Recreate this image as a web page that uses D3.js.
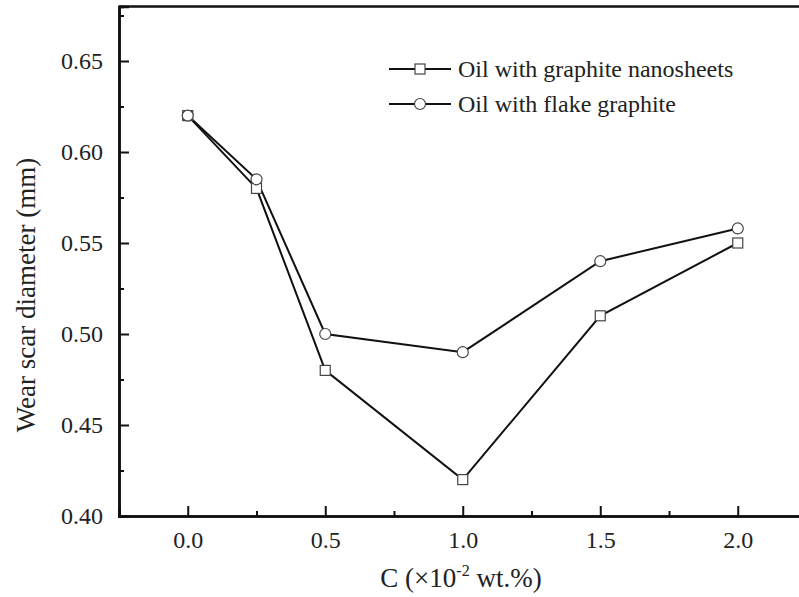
<!DOCTYPE html>
<html><head><meta charset="utf-8">
<script src="https://cdn.jsdelivr.net/npm/d3@7"></script>
<style>body{margin:0;background:#fff;} svg{display:block;}</style>
</head><body>
<svg id="chart" width="799" height="597"></svg>
<script>
const concentrations = [0, 0.25, 0.5, 1.0, 1.5, 2.0];
const nanosheets = [0.62, 0.58, 0.48, 0.42, 0.51, 0.55];
const flake = [0.62, 0.585, 0.50, 0.49, 0.54, 0.558];
const seriesNames = ["Oil with graphite nanosheets", "Oil with flake graphite"];
const xTicks = [0.0, 0.5, 1.0, 1.5, 2.0];
const xMinor = [0.25, 0.75, 1.25, 1.75];
const yTicks = [0.40, 0.45, 0.50, 0.55, 0.60, 0.65];
const yMinor = [0.425, 0.475, 0.525, 0.575, 0.625, 0.675];

const svg = d3.select("#chart");
const font = "'Liberation Serif', 'Times New Roman', serif";
const x = d3.scaleLinear().domain([-0.25, 2.25]).range([119, 806.5]);
const y = d3.scaleLinear().domain([0.40, 0.68]).range([516, 6.4]);

// axes
const gx = svg.append("g").attr("transform", "translate(0,516)")
  .call(d3.axisBottom(x).tickValues(xTicks).tickSize(-10).tickPadding(15).tickFormat(d3.format(".1f")));
const gxm = svg.append("g").attr("transform", "translate(0,516)")
  .call(d3.axisBottom(x).tickValues(xMinor).tickSize(-5).tickFormat(""));
const gy = svg.append("g").attr("transform", "translate(119,0)")
  .call(d3.axisLeft(y).tickValues(yTicks).tickSize(-10).tickPadding(16).tickFormat(d3.format(".2f")));
const gym = svg.append("g").attr("transform", "translate(119,0)")
  .call(d3.axisLeft(y).tickValues(yMinor).tickSize(-5).tickFormat(""));
[gx, gxm, gy, gym].forEach(g => {
  g.select(".domain").attr("stroke", "#111").attr("stroke-width", 2.5);
  g.selectAll(".tick line").attr("stroke", "#111").attr("stroke-width", 2);
  g.selectAll(".tick text").attr("font-family", font).attr("font-size", 24).attr("fill", "#222");
});
// top border
svg.append("line").attr("x1", 119).attr("x2", 799).attr("y1", y(0.68)).attr("y2", y(0.68))
  .attr("stroke", "#111").attr("stroke-width", 2.5);

// axis titles
svg.append("text").attr("transform", "translate(35,295) rotate(-90)")
  .attr("text-anchor", "middle").attr("font-family", font).attr("font-size", 27).attr("fill", "#222")
  .text("Wear scar diameter (mm)");
const xt = svg.append("text").attr("x", 461).attr("y", 587).attr("text-anchor", "middle")
  .attr("font-family", font).attr("font-size", 27).attr("fill", "#222");
xt.append("tspan").text("C (×10");
xt.append("tspan").attr("dy", -11).attr("font-size", 16).text("-2");
xt.append("tspan").attr("dy", 11).text(" wt.%)");

const line = d3.line().x((d, i) => x(concentrations[i])).y(d => y(d));
const data = [nanosheets, flake];
data.forEach((vals, k) => {
  svg.append("path").datum(vals).attr("d", line).attr("fill", "none")
    .attr("stroke", "#111").attr("stroke-width", 2);
});
// markers
svg.selectAll("rect.sq").data(nanosheets).enter().append("rect")
  .attr("x", (d, i) => x(concentrations[i]) - 5).attr("y", d => y(d) - 5)
  .attr("width", 10).attr("height", 10).attr("fill", "#fff").attr("stroke", "#444").attr("stroke-width", 1.2);
svg.selectAll("circle.ci").data(flake).enter().append("circle")
  .attr("cx", (d, i) => x(concentrations[i])).attr("cy", d => y(d))
  .attr("r", 5.5).attr("fill", "#fff").attr("stroke", "#444").attr("stroke-width", 1.2);

// legend
const legY = [69, 104];
seriesNames.forEach((name, k) => {
  svg.append("line").attr("x1", 389).attr("x2", 451).attr("y1", legY[k]).attr("y2", legY[k])
    .attr("stroke", "#111").attr("stroke-width", 2);
  if (k === 0) {
    svg.append("rect").attr("x", 415).attr("y", legY[k] - 5).attr("width", 10).attr("height", 10)
      .attr("fill", "#fff").attr("stroke", "#444").attr("stroke-width", 1.2);
  } else {
    svg.append("circle").attr("cx", 420).attr("cy", legY[k]).attr("r", 5.5)
      .attr("fill", "#fff").attr("stroke", "#444").attr("stroke-width", 1.2);
  }
  svg.append("text").attr("x", 458).attr("y", legY[k] + 8).attr("font-family", font)
    .attr("font-size", 24).attr("fill", "#222").text(name);
});
</script>
</body></html>
